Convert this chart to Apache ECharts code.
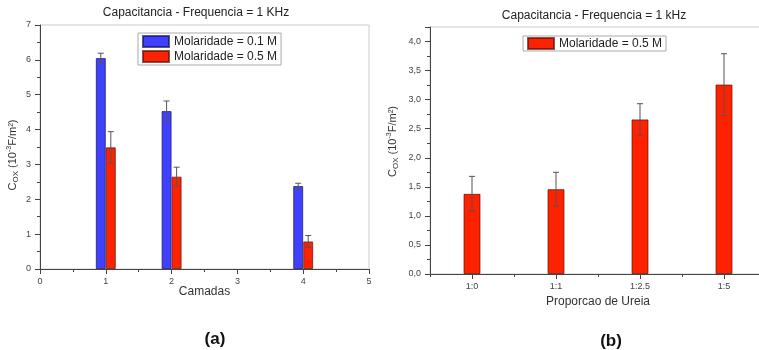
<!DOCTYPE html>
<html><head><meta charset="utf-8">
<script src="https://cdn.jsdelivr.net/npm/echarts@6/dist/echarts.min.js"></script>
<style>html,body{margin:0;padding:0;background:#fff}#c{width:759px;height:350px}</style>
</head><body><div id="c"></div>
<script>
// ---- data (a) ----
const camadas = [1, 2, 4];
const blueVals = [6.05, 4.53, 2.38];
const blueErr = [0.14, 0.29, 0.08];
const redVals = [3.49, 2.65, 0.79];
const redErr = [0.45, 0.27, 0.17];
// ---- data (b) ----
const proporcao = ['1:0', '1:1', '1:2.5', '1:5'];
const ureiaVals = [1.38, 1.46, 2.66, 3.26];
const ureiaErr = [0.30, 0.29, 0.27, 0.53];

const FONT = 'Liberation Sans, Arial, sans-serif';
const BLUE = '#4040ff', RED = '#ff2200';
const N01 = 'Molaridade = 0.1 M', N05 = 'Molaridade = 0.5 M';

function errRender(pxOff) {
  return function (params, api) {
    const x = api.value(0), y = api.value(1), e = api.value(2);
    const top = api.coord([x, y + e]);
    const bot = api.coord([x, y - e]);
    const cx = top[0] + pxOff;
    const st = { stroke: '#555', lineWidth: 1 };
    return { type: 'group', children: [
      { type: 'line', shape: { x1: cx, y1: top[1], x2: cx, y2: bot[1] }, style: st },
      { type: 'line', shape: { x1: cx - 3, y1: top[1], x2: cx + 3, y2: top[1] }, style: st },
      { type: 'line', shape: { x1: cx - 3, y1: bot[1], x2: cx + 3, y2: bot[1] }, style: st }
    ]};
  };
}

const yName = 'C{sub|OX} (10{sup|-3}F/m²)';
const nameRich = { sub: { fontSize: 8, verticalAlign: 'bottom', padding: [6, 0, 0, 0], fontFamily: FONT, color: '#333' },
                   sup: { fontSize: 7, verticalAlign: 'top', padding: [0, 0, 5, 0], fontFamily: FONT, color: '#333' } };
const axLine = { lineStyle: { color: '#444', width: 1 } };
const axLabel = { fontFamily: FONT, fontSize: 9, color: '#444' };

const chart = echarts.init(document.getElementById('c'));
chart.setOption({
  animation: false,
  title: [
    { text: 'Capacitancia - Frequencia = 1 KHz', left: 191, top: 2, textAlign: 'center',
      textStyle: { fontFamily: FONT, fontSize: 12, fontWeight: 'normal', color: '#222' } },
    { text: 'Capacitancia - Frequencia = 1 kHz', left: 589, top: 5, textAlign: 'center',
      textStyle: { fontFamily: FONT, fontSize: 12, fontWeight: 'normal', color: '#222' } },
    { text: '(a)', left: 210, top: 326, textAlign: 'center',
      textStyle: { fontFamily: FONT, fontSize: 17, fontWeight: 'bold', color: '#111' } },
    { text: '(b)', left: 606, top: 328, textAlign: 'center',
      textStyle: { fontFamily: FONT, fontSize: 17, fontWeight: 'bold', color: '#111' } }
  ],
  legend: [
    { left: 138, top: 33, orient: 'vertical', borderColor: '#aaa', borderWidth: 1, padding: [2, 4, 2, 4],
      itemGap: 2, itemWidth: 26, itemHeight: 11, icon: 'rect',
      textStyle: { fontFamily: FONT, fontSize: 12, color: '#222' },
      data: [N01, N05] },
    { left: 523, top: 36, orient: 'horizontal', borderColor: '#aaa', borderWidth: 1, padding: [1, 4, 1, 4],
      itemWidth: 26, itemHeight: 11, icon: 'rect',
      textStyle: { fontFamily: FONT, fontSize: 12, color: '#222' },
      data: [N05] }
  ],
  grid: [
    { left: 40, top: 25, width: 329, height: 244, show: true, borderColor: '#ccc', borderWidth: 1,
      outerBoundsMode: 'none', containLabel: false },
    { left: 430, top: 27, width: 336, height: 247, show: true, borderColor: '#ccc', borderWidth: 1,
      outerBoundsMode: 'none', containLabel: false }
  ],
  xAxis: [
    { gridIndex: 0, type: 'value', min: 0, max: 5, interval: 1,
      axisLine: axLine, axisTick: { show: true, length: 5, lineStyle: { color: '#444' } },
      minorTick: { show: true, splitNumber: 2, length: 3, lineStyle: { color: '#444' } },
      splitLine: { show: false }, axisLabel: Object.assign({ margin: 8 }, axLabel),
      name: 'Camadas', nameLocation: 'middle', nameGap: 17, nameMoveOverlap: false,
      nameTextStyle: { fontFamily: FONT, fontSize: 12, color: '#333' } },
    { gridIndex: 1, type: 'category', data: proporcao, boundaryGap: true,
      axisLine: axLine, axisTick: { show: true, alignWithLabel: true, length: 5, lineStyle: { color: '#444' } },
      axisLabel: Object.assign({ margin: 8 }, axLabel),
      name: 'Proporcao de Ureia', nameLocation: 'middle', nameGap: 21,
      nameTextStyle: { fontFamily: FONT, fontSize: 12, color: '#333' } },
    { gridIndex: 1, type: 'category', data: proporcao, boundaryGap: true, position: 'bottom',
      axisLine: { show: false }, axisLabel: { show: false },
      axisTick: { show: true, alignWithLabel: false, length: 3, lineStyle: { color: '#444' } } }
  ],
  yAxis: [
    { gridIndex: 0, type: 'value', min: 0, max: 7, interval: 1,
      axisLine: { show: true, lineStyle: { color: '#444' } },
      axisTick: { show: true, length: 5, lineStyle: { color: '#444' } },
      minorTick: { show: true, splitNumber: 2, length: 3, lineStyle: { color: '#444' } },
      splitLine: { show: false }, axisLabel: Object.assign({ margin: 9 }, axLabel),
      name: yName, nameLocation: 'middle', nameRotate: 90, nameGap: 20,
      nameTextStyle: { fontFamily: FONT, fontSize: 11, color: '#333', rich: nameRich, padding: [0, 0, 0, -16] } },
    { gridIndex: 1, type: 'value', min: 0, max: 4.25, interval: 0.5,
      axisLine: { show: true, lineStyle: { color: '#444' } },
      axisTick: { show: true, length: 5, lineStyle: { color: '#444' } },
      minorTick: { show: true, splitNumber: 2, length: 3, lineStyle: { color: '#444' } },
      splitLine: { show: false },
      axisLabel: Object.assign({ margin: 9, showMaxLabel: false,
        formatter: v => v.toFixed(1).replace('.', ',') }, axLabel),
      name: yName, nameLocation: 'middle', nameRotate: 90, nameGap: 30,
      nameTextStyle: { fontFamily: FONT, fontSize: 11, color: '#333', rich: nameRich, padding: [0, 0, 0, 18] } }
  ],
  series: [
    { name: N01, type: 'bar', xAxisIndex: 0, yAxisIndex: 0, barWidth: 10, barGap: '0%',
      itemStyle: { color: BLUE, borderColor: 'rgba(20,20,90,0.7)', borderWidth: 1 },
      data: camadas.map((c, i) => [c, blueVals[i]]) },
    { name: N05, type: 'bar', xAxisIndex: 0, yAxisIndex: 0, barWidth: 10, barGap: '0%',
      itemStyle: { color: RED, borderColor: 'rgba(90,20,10,0.7)', borderWidth: 1 },
      data: camadas.map((c, i) => [c, redVals[i]]) },
    { name: 'errA1', type: 'custom', xAxisIndex: 0, yAxisIndex: 0, z: 10, renderItem: errRender(-5),
      data: camadas.map((c, i) => [c, blueVals[i], blueErr[i]]) },
    { name: 'errA2', type: 'custom', xAxisIndex: 0, yAxisIndex: 0, z: 10, renderItem: errRender(5),
      data: camadas.map((c, i) => [c, redVals[i], redErr[i]]) },
    { name: N05, type: 'bar', xAxisIndex: 1, yAxisIndex: 1, barWidth: 17,
      itemStyle: { color: RED, borderColor: 'rgba(90,20,10,0.7)', borderWidth: 1 },
      data: ureiaVals },
    { name: 'errB', type: 'custom', xAxisIndex: 1, yAxisIndex: 1, z: 10, renderItem: errRender(0),
      data: proporcao.map((p, i) => [i, ureiaVals[i], ureiaErr[i]]) }
  ]
});
</script></body></html>
